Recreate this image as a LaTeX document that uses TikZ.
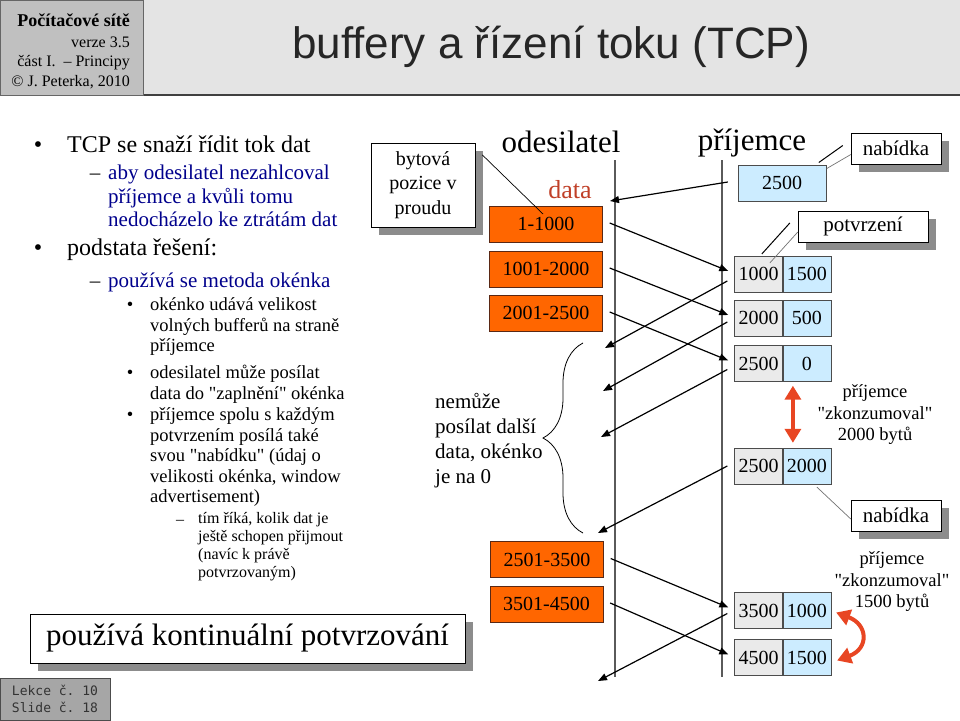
\documentclass[tikz,border=0pt]{standalone}
\usepackage{fontspec}
\setmainfont{Liberation Serif}[Ligatures=TeXOff]
\setsansfont{Liberation Sans}
\setmonofont{DejaVu Sans Mono}
\usepackage{tikz}
\usetikzlibrary{positioning,arrows.meta,calc,shadows,decorations.pathreplacing}
\usepackage{xcolor}

\definecolor{segorange}{RGB}{255,102,0}
\definecolor{segedge}{RGB}{90,40,20}
\definecolor{winblue}{RGB}{204,236,255}
\definecolor{seqgray}{RGB}{234,234,234}
\definecolor{navytext}{RGB}{0,0,140}
\definecolor{datared}{RGB}{192,64,40}
\definecolor{consred}{RGB}{232,70,35}
\definecolor{headgray}{RGB}{228,228,228}
\definecolor{tabgray}{RGB}{192,192,192}
\definecolor{lifegray}{RGB}{90,90,90}
\newcommand{\fs}[2]{\fontsize{#1}{#2}\selectfont}

\begin{document}
\begin{tikzpicture}[x=1pt,y=-1pt,>={Triangle[length=9pt,width=7pt]},
  seg/.style={draw=segedge,fill=segorange,minimum width=113pt,minimum height=36pt,inner sep=0pt,font=\fs{20}{24}},
  seqbox/.style={draw=black!70,fill=seqgray,minimum width=48pt,minimum height=36pt,inner sep=0pt,font=\fs{20}{24}},
  winbox/.style={seqbox,fill=winblue},
  callout/.style={draw=black,fill=white,inner sep=0pt,align=center,drop shadow={shadow xshift=8pt,shadow yshift=-8pt,fill=black!45,opacity=1}},
  msg/.style={->,line width=1.2pt},
  calline/.style={draw=black!55,line width=0.7pt},
  conarr/.style={{Triangle[length=14pt,width=16pt]}-{Triangle[length=14pt,width=16pt]},consred,line width=4pt},
  lvone/.style={font=\fs{24}{28},anchor=base west,align=left,inner sep=0pt},
  lvtwo/.style={font=\fs{21}{23.5},text=navytext,anchor=base west,align=left,inner sep=0pt},
  lvthree/.style={font=\fs{18.5}{20.5},anchor=base west,align=left,inner sep=0pt},
  lvfour/.style={font=\fs{16}{17.7},anchor=base west,align=left,inner sep=0pt},
  bulletmark/.style={anchor=base,inner sep=0pt}]
\useasboundingbox (0,0) rectangle (960,720);

% header (multi-line nodes sit on their last baseline)
\fill[headgray] (0,0) rectangle (960,95);
\draw[black!75,line width=2pt] (0,95) -- (960,95);
\draw[black!60,fill=tabgray] (0,0) rectangle (143,95);
\node[anchor=base east,inner sep=0pt,font=\fs{18}{20}\bfseries] (course) at (130,26) {Počítačové sítě};
\node[anchor=base east,inner sep=0pt,font=\fs{16}{19.5},align=right] (version) at (130,86) {verze 3.5\\část I.\ \ – Principy\\© J. Peterka, 2010};
\node[font=\sffamily\fs{44}{50},text=black!85] (title) at (551,47) {buffery a řízení toku (TCP)};

% bullets
\node[bulletmark,font=\fs{24}{28}] (m1) at (38,152) {•};
\node[lvone] (t1) at (67,152) {TCP se snaží řídit tok dat};
\node[bulletmark,font=\fs{21}{24}] (m2) at (95,179.5) {–};
\node[lvtwo] (t2) at (108,226.5) {aby odesilatel nezahlcoval\\příjemce a kvůli tomu\\nedocházelo ke ztrátám dat};
\node[bulletmark,font=\fs{24}{28}] (m3) at (38,255) {•};
\node[lvone] (t3) at (67,255) {podstata řešení:};
\node[bulletmark,font=\fs{21}{24}] (m4) at (95,287) {–};
\node[lvtwo] (t4) at (108,287) {používá se metoda okénka};
\node[bulletmark,font=\fs{18.5}{20}] (m5) at (130,310.5) {•};
\node[lvthree] (t5) at (150,351.5) {okénko udává velikost\\volných bufferů na straně\\příjemce};
\node[bulletmark,font=\fs{18.5}{20}] (m6) at (130,378.5) {•};
\node[lvthree] (t6) at (150,399) {odesilatel může posílat\\data do "zaplnění" okénka};
\node[bulletmark,font=\fs{18.5}{20}] (m7) at (130,420.5) {•};
\node[lvthree] (t7) at (150,502.5) {příjemce spolu s každým\\potvrzením posílá také\\svou "nabídku" (údaj o\\velikosti okénka, window\\advertisement)};
\node[bulletmark,font=\fs{16}{18}] (m8) at (180,524) {–};
\node[lvfour] (t8) at (198,577) {tím říká, kolik dat je\\ještě schopen přijmout\\(navíc k právě\\potvrzovaným)};

% lifelines
\coordinate (sndtop) at (615,160);
\coordinate (sndbot) at (615,677);
\coordinate (rcvtop) at (722,160);
\coordinate (rcvbot) at (722,677);
\draw[lifegray,line width=1.5pt] (sndtop) -- (sndbot);
\draw[lifegray,line width=1.5pt] (rcvtop) -- (rcvbot);
\node[font=\fs{31}{34}] (sender) at (561,142) {odesilatel};
\node[font=\fs{31}{34}] (receiver) at (752,143) {příjemce};
\node[font=\fs{26}{30},text=datared] (datalbl) at (570,190) {data};

% sender segments
\node[seg] (d1) at (546,224) {1-1000};
\node[seg] (d2) at (546,269) {1001-2000};
\node[seg] (d3) at (546,313) {2001-2500};
\node[seg] (d4) at (547,559.5) {2501-3500};
\node[seg] (d5) at (546.5,604) {3501-4500};

% receiver acks and windows
\node[winbox,minimum width=88pt] (n2500) at (782,183) {2500};
\node[seqbox] (r1) at (758.5,274) {1000};
\node[winbox,right=0pt of r1] (w1) {1500};
\node[seqbox] (r2) at (758.5,318) {2000};
\node[winbox,right=0pt of r2] (w2) {500};
\node[seqbox] (r3) at (758.5,363.5) {2500};
\node[winbox,right=0pt of r3] (w3) {0};
\node[seqbox] (r4) at (758.5,466) {2500};
\node[winbox,right=0pt of r4] (w4) {2000};
\node[seqbox] (r5) at (758.5,610.5) {3500};
\node[winbox,right=0pt of r5] (w5) {1000};
\node[seqbox] (r6) at (758.5,657.5) {4500};
\node[winbox,right=0pt of r6] (w6) {1500};

% messages
\coordinate (ack0) at (610,201);
\coordinate (ack1) at (605,348);
\coordinate (ack2) at (603,391);
\coordinate (ack3) at (601,437);
\coordinate (ack4) at (598,533);
\coordinate (ack5) at (598,681);
\draw[msg] ($(n2500.west)+(-10,-1)$) -- (ack0);
\foreach \d/\r in {d1/r1,d2/r2,d3/r3,d4/r5,d5/r6}
  \draw[msg] ($(\d.east)+(7,-1)$) -- ($(\r.west)+(-6,-3)$);
\foreach \r/\a/\dy in {r1/ack1/7,r2/ack2/4,r3/ack3/6,r4/ack4/0,r5/ack5/3}
  \draw[msg] ($(\r.west)+(-7,\dy)$) -- (\a);

% callouts
\node[callout,minimum width=104pt,minimum height=84pt,font=\fs{20}{24.5}] (bytpos) at (423,185) {bytová\\pozice v\\proudu};
\draw[line width=0.7pt] ($(bytpos.north east)+(7,12)$) -- ($(d1.center)+(-3,-10)$);
\node[callout,minimum width=90pt,minimum height=31pt,font=\fs{21}{24}] (nab1) at (896,148.5) {nabídka};
\draw[calline] ($(nab1.west)+(0,6)$) -- ++(-24,14);
\draw[line width=1pt] ($(nab1.west)+(-8,-3)$) -- ++(-24,17);
\node[callout,minimum width=130pt,minimum height=31pt,font=\fs{21}{24}] (conf) at (863,226.5) {potvrzení};
\draw[calline] ($(conf.west)+(0,5.5)$) -- ++(-28,31);
\draw[line width=1pt] ($(conf.west)+(-8,-3.5)$) -- ++(-28,31);
\node[callout,minimum width=90pt,minimum height=31pt,font=\fs{21}{24}] (nab2) at (896,515.5) {nabídka};
\draw[calline] ($(nab2.west)+(0,3.5)$) -- ++(-34,-32);
\node[callout,minimum width=435pt,minimum height=49pt,font=\fs{31}{34}] (contack) at (247.5,638.5) {používá kontinuální potvrzování};

% window zero
\draw[decorate,decoration={brace,amplitude=40pt},line width=0.8pt] (583,533) -- (583,343);
\node[anchor=base west,inner sep=0pt,align=left,font=\fs{21}{25}] (nowin) at (435,483) {nemůže\\posílat další\\data, okénko\\je na 0};

% consumed
\draw[conarr] ($(w3.south)+(-14,4)$) -- ($(w4.north)+(-14,-5)$);
\node[align=center,inner sep=0pt,font=\fs{18.5}{21.5}] (cons1) at (875,415) {příjemce\\"zkonzumoval"\\2000 bytů};
\draw[conarr] ($(w5.east)+(5,2)$) .. controls +(32,12) and +(32,-12) .. ($(w6.east)+(6,3)$);
\node[align=center,inner sep=0pt,font=\fs{18.5}{21.5}] (cons2) at (892,582) {příjemce\\"zkonzumoval"\\1500 bytů};

% slide tag
\node[draw=black!70,fill=black!35,minimum width=110pt,minimum height=42pt,inner sep=0pt,align=left,font=\ttfamily\fs{13}{17},text=black!80] (slidetag) at (55,699) {Lekce č. 10\\Slide č. 18};
\end{tikzpicture}
\end{document}
